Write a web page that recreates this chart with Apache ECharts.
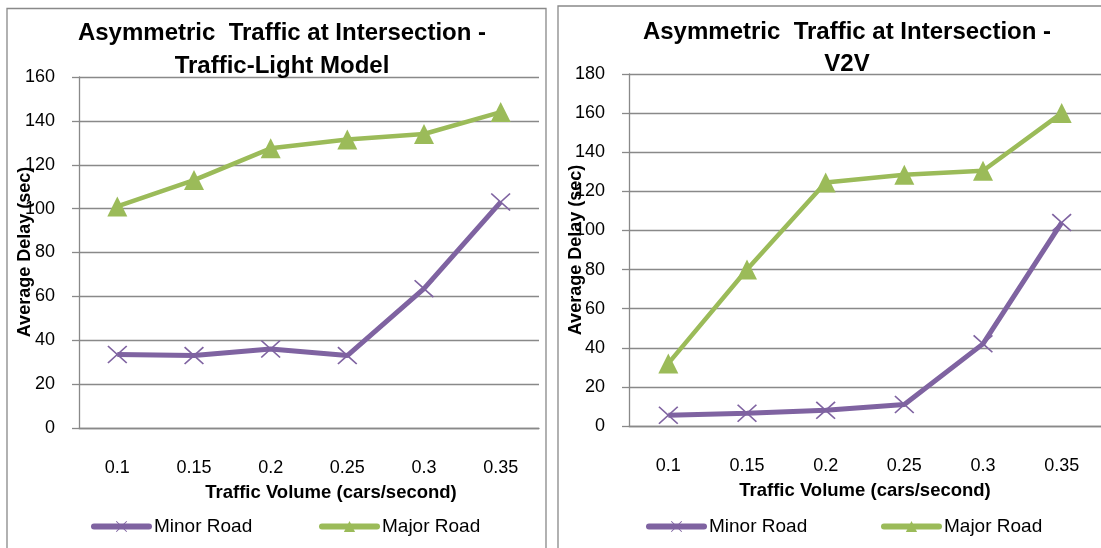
<!DOCTYPE html>
<html>
<head>
<meta charset="utf-8">
<title>Asymmetric Traffic at Intersection</title>
<script src="https://cdn.jsdelivr.net/npm/echarts@6/dist/echarts.min.js"></script>
<style>
    html, body { margin: 0; padding: 0; background: #fff; }
    #chart { width: 1101px; height: 548px; }
</style>
</head>
<body>
<div id="chart"></div>
<script>
// values
const volumes = ['0.1', '0.15', '0.2', '0.25', '0.3', '0.35'];
const lightMinor = [33.5, 33, 36, 33, 63.5, 103];
const lightMajor = [101, 113, 127.5, 131.5, 134, 144];
const v2vMinor = [5.5, 6.5, 8, 11, 42, 104];
const v2vMajor = [32, 80, 124.5, 128.5, 130.5, 160];
const yMaxes = [160, 180];
const yStep = 20;

const FONT = '"Liberation Sans", Arial, sans-serif';
const GRAY = '#898989';
const PURPLE = '#7f63a1';
const GREEN = '#9bbb59';
// thin excel-like "x" marker
const CROSS = 'path://M0,6 L6,0 L50,44 L94,0 L100,6 L56,50 L100,94 L94,100 L50,56 L6,100 L0,94 L44,50 Z';

const txt = { color: '#000', fontFamily: FONT, fontSize: 18 };

function xAxisFor(idx, shift) {
    return {
        gridIndex: idx,
        type: 'category',
        data: volumes,
        boundaryGap: true,
        axisLine: { show: true, lineStyle: { color: GRAY, width: 1.3 } },
        axisTick: { show: false },
        axisLabel: Object.assign({ margin: 31 }, txt),
        splitLine: { show: false },
        name: 'Traffic Volume (cars/second)',
        nameLocation: 'middle',
        nameGap: 55,
        nameTextStyle: Object.assign({}, txt, { fontSize: 18.5, fontWeight: 'bold', padding: [0, 0, 0, shift] })
    };
}

function yAxisFor(idx) {
    return {
        gridIndex: idx,
        type: 'value',
        min: 0,
        max: yMaxes[idx],
        interval: yStep,
        axisLine: { show: true, lineStyle: { color: GRAY, width: 1.3 } },
        axisTick: { show: true, length: 7, lineStyle: { color: GRAY, width: 1.3 } },
        axisLabel: Object.assign({ margin: 24 }, txt),
        splitLine: { show: true, lineStyle: { color: GRAY, width: 1.3 } }
    };
}

// the excel y title sits on top of the tick labels, so it is drawn by hand
function yTitle(x, y) {
    return {
        type: 'text', silent: true, x: x, y: y, rotation: Math.PI / 2,
        style: {
            text: 'Average Delay (sec)', fill: '#000', fontFamily: FONT, fontSize: 18,
            fontWeight: 'bold', align: 'center', verticalAlign: 'middle'
        }
    };
}

function minorSeries(idx, data) {
    return {
        name: 'Minor Road', type: 'line', xAxisIndex: idx, yAxisIndex: idx, data: data,
        symbol: CROSS, symbolSize: [20, 18],
        lineStyle: { color: PURPLE, width: 5 },
        itemStyle: { color: PURPLE },
        emphasis: { disabled: true }
    };
}

function majorSeries(idx, data) {
    return {
        name: 'Major Road', type: 'line', xAxisIndex: idx, yAxisIndex: idx, data: data,
        symbol: 'triangle', symbolSize: 20,
        lineStyle: { color: GREEN, width: 4.5 },
        itemStyle: { color: GREEN },
        emphasis: { disabled: true }
    };
}

function legendAt(name, left) {
    return {
        data: [name], left: left, top: 517, padding: 0,
        itemWidth: 55, itemHeight: 14, itemGap: 0,
        lineStyle: { width: 6, cap: 'round' },
        textStyle: Object.assign({}, txt, { fontSize: 19 })
    };
}

const chart = echarts.init(document.getElementById('chart'));
chart.setOption({
    animation: false,
    backgroundColor: '#fff',
    title: [
        { text: 'Asymmetric  Traffic at Intersection -\nTraffic-Light Model', left: 282, top: 17, padding: 0, textAlign: 'center',
          textStyle: { color: '#000', fontFamily: FONT, fontSize: 24, fontWeight: 'bold', lineHeight: 33 } },
        { text: 'Asymmetric  Traffic at Intersection -\nV2V', left: 847, top: 16, padding: 0, textAlign: 'center',
          textStyle: { color: '#000', fontFamily: FONT, fontSize: 24, fontWeight: 'bold', lineHeight: 32 } }
    ],
    legend: [
        legendAt('Minor Road', 91),
        legendAt('Major Road', 319),
        legendAt('Minor Road', 646),
        legendAt('Major Road', 881)
    ],
    grid: [
        { left: 79, right: 562, top: 77, bottom: 120, outerBoundsMode: 'none' },
        { left: 629, right: 0, top: 74, bottom: 122, outerBoundsMode: 'none' }
    ],
    xAxis: [xAxisFor(0, 44), xAxisFor(1, 0)],
    yAxis: [yAxisFor(0), yAxisFor(1)],
    series: [
        minorSeries(0, lightMinor),
        majorSeries(0, lightMajor),
        minorSeries(1, v2vMinor),
        majorSeries(1, v2vMajor)
    ],
    graphic: [
        { type: 'rect', silent: true, shape: { x: 7, y: 8.5, width: 539, height: 560 },
          style: { fill: 'none', stroke: GRAY, lineWidth: 1.3 } },
        { type: 'rect', silent: true, shape: { x: 558, y: 6, width: 600, height: 600 },
          style: { fill: 'none', stroke: GRAY, lineWidth: 1.3 } },
        yTitle(25, 252),
        yTitle(576, 250)
    ]
});
</script>
</body>
</html>
